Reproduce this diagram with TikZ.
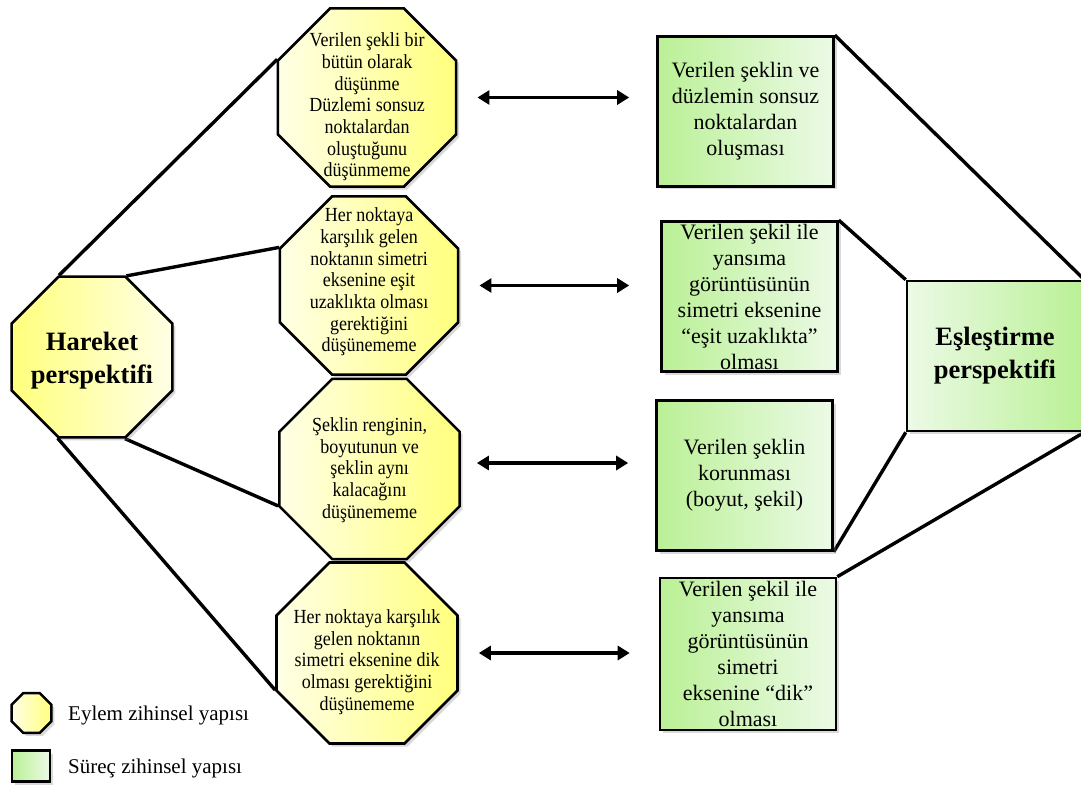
\documentclass[tikz,border=0pt]{standalone}
\usepackage{fontspec}
\setmainfont{Liberation Serif}
\newfontfamily\octfont[FakeStretch=0.9]{Liberation Serif}
\usetikzlibrary{shapes.geometric,shadows,arrows.meta}
\pgfdeclarelayer{back}
\pgfsetlayers{back,main}
\definecolor{ylw}{RGB}{255,255,125}
\definecolor{ylwpale}{RGB}{255,255,230}
\definecolor{grn}{RGB}{186,240,150}
\definecolor{grnpale}{RGB}{236,250,230}

\begin{document}
\begin{tikzpicture}[x=1pt,y=-1pt,
  softshadow/.style={drop shadow={opacity=0.3, shadow xshift=3pt, shadow yshift=-3pt}},
  octo/.style={regular polygon, regular polygon sides=8, draw=black, line width=2.6pt,
    inner sep=0pt, minimum size=#1, left color=ylwpale, right color=ylw, softshadow},
  octo/.default=193pt,
  procbox/.style={rectangle, draw=black, line width=2.6pt, inner sep=0pt,
    minimum width=176pt, minimum height=150pt, align=center,
    font=\fontsize{22}{26}\selectfont, left color=grn, right color=grnpale, softshadow},
  otext/.style={align=center, inner sep=0pt, font=\octfont\fontsize{20}{21.7}\selectfont},
  bigtext/.style={align=center, inner sep=0pt, font=\fontsize{26.5}{33}\selectfont\bfseries},
  legtext/.style={anchor=west, inner sep=0pt, font=\fontsize{21}{25}\selectfont},
  arr/.style={{Triangle[length=12pt,width=14pt]}-{Triangle[length=12pt,width=14pt]}, line width=3.6pt},
  conn/.style={line width=3.4pt}]

\useasboundingbox (0,0) rectangle (1081,786);
\clip (0,0) rectangle (1081,786);

% left hub
\node[octo=174pt, left color=ylw, right color=ylwpale] (H) at (92,357) {};
\node[bigtext] (Ht) at (92,361) {Hareket\\perspektifi};

% action structures
\node[octo] (O1) at (367,97.5) {};
\node[otext] (O1t) at (367,107) {Verilen şekli bir\\bütün olarak\\düşünme\\Düzlemi sonsuz\\noktalardan\\oluştuğunu\\düşünmeme};
\node[octo] (O2) at (369,285.5) {};
\node[otext] (O2t) at (369,282) {Her noktaya\\karşılık gelen\\noktanın simetri\\eksenine eşit\\uzaklıkta olması\\gerektiğini\\düşünememe};
\node[octo=195pt] (O3) at (369.5,469) {};
\node[otext] (O3t) at (369.5,470) {Şeklin renginin,\\boyutunun ve\\şeklin aynı\\kalacağını\\düşünememe};
\node[octo=196pt] (O4) at (367,653) {};
\node[otext] (O4t) at (367,662) {Her noktaya karşılık\\gelen noktanın\\simetri eksenine dik\\olması gerektiğini\\düşünememe};

% process structures
\node[procbox] (R1) at (745.5,111.5) {Verilen şeklin ve\\düzlemin sonsuz\\noktalardan\\oluşması};
\node[procbox] (R2) at (749.5,296.5) {Verilen şekil ile\\yansıma\\görüntüsünün\\simetri eksenine\\“eşit uzaklıkta”\\olması};
\node[procbox] (R3) at (744.5,475.5) {Verilen şeklin\\korunması\\(boyut, şekil)};
\node[procbox, minimum height=152pt] (R4) at (748,654) {Verilen şekil ile\\yansıma\\görüntüsünün\\simetri\\eksenine “dik”\\olması};

% right hub
\node[procbox, left color=grnpale, right color=grn, font=\fontsize{26.5}{33}\selectfont\bfseries] (E) at (995,356) {Eşleştirme\\perspektifi};

% correspondences
\draw[arr, shorten <=20pt, shorten >=27pt] (O1.east) -- (O1.east -| R1.west);
\draw[arr, shorten <=20pt, shorten >=31pt] (O2.east) -- (O2.east -| R2.west);
\draw[arr, shorten <=16pt, shorten >=27pt] ([yshift=6pt]O3.east) -- ([yshift=6pt]O3.east -| R3.west);
\draw[arr, shorten <=20pt, shorten >=29pt] (O4.east) -- (O4.east -| R4.west);

% hub links
\begin{pgfonlayer}{back}
\draw[conn] (H.112.5) -- (O1.157.5);
\draw[conn] (H.67.5) -- (O2.157.5);
\draw[conn] (H.292.5) -- (O3.202.5);
\draw[conn] (H.247.5) -- (O4.202.5);
\draw[conn] (R1.north east) -- (E.north east);
\draw[conn] (R2.north east) -- (E.north west);
\draw[conn] (R3.south east) -- (E.south west);
\draw[conn] (R4.north east) -- (E.south east);
\end{pgfonlayer}

% legend
\node[octo=43pt, line width=2.4pt] (L1) at (31.5,713) {};
\node[legtext] (L1t) at (68,715) {Eylem zihinsel yapısı};
\node[rectangle, draw=black, line width=2.4pt, minimum width=38pt, minimum height=31pt,
  left color=grn, right color=grnpale, softshadow] (L2) at (31,766) {};
\node[legtext] (L2t) at (68,768) {Süreç zihinsel yapısı};
\end{tikzpicture}
\end{document}
